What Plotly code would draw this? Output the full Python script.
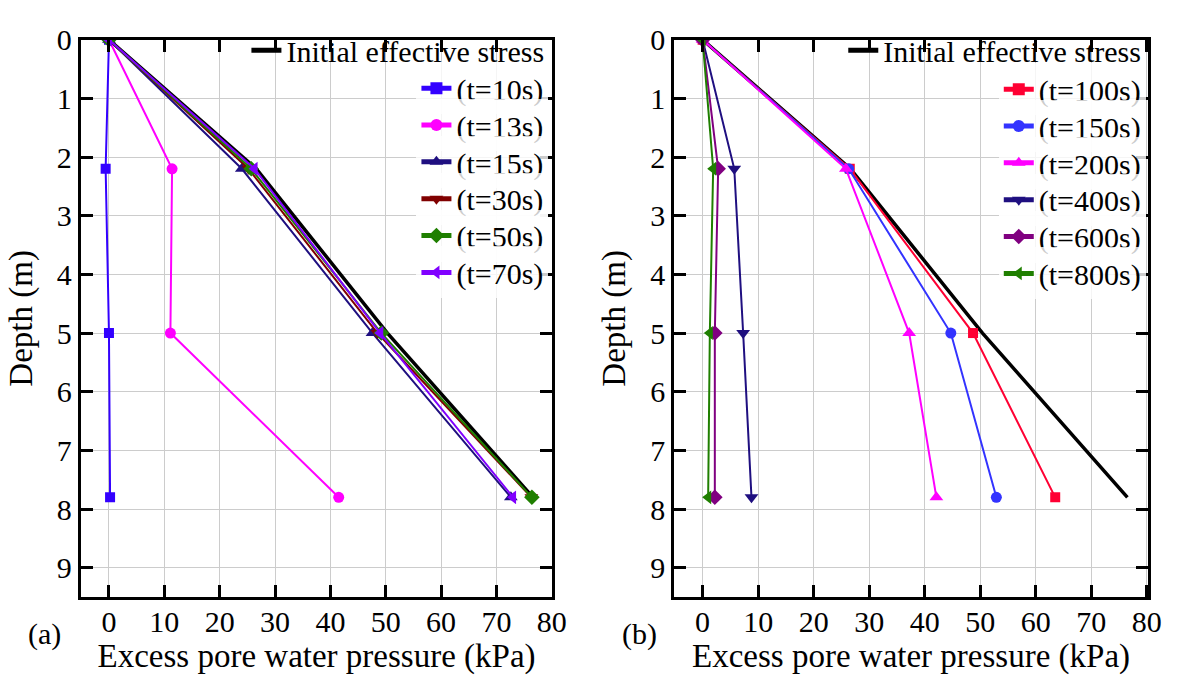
import plotly.graph_objects as go

# Measurement depths (m)
depth = [0, 2.2, 5.0, 7.8]

# Panel (a): excess pore water pressure (kPa), early stage
initial_a = [0, 26.6, 50.3, 76.6]
t10 = [0, -0.6, 0.0, 0.2]
t13 = [0, 11.4, 11.1, 41.5]
t15 = [0, 24.0, 47.6, 72.6]
t30 = [0, 25.2, 48.5, 76.3]
t50 = [0, 25.7, 49.2, 76.4]
t70 = [0, 26.3, 49.0, 73.0]

# Panel (b): excess pore water pressure (kPa), dissipation stage
initial_b = [0, 26.6, 50.4, 76.5]
t100 = [0, 26.5, 48.7, 63.5]
t150 = [0, 26.3, 44.7, 52.9]
t200 = [0, 25.8, 37.2, 42.1]
t400 = [0, 5.7, 7.3, 8.8]
t600 = [0, 2.8, 2.2, 2.2]
t800 = [0, 1.9, 1.3, 1.0]

x_ticks = list(range(0, 81, 10))
y_ticks = list(range(0, 10))

FONT = "Liberation Serif, Times New Roman, serif"
W, H = 1183, 677

series_a = [
    ("(t=10s)", t10, "#3300FF", "square", 10),
    ("(t=13s)", t13, "#FF00FF", "circle", 11),
    ("(t=15s)", t15, "#1F0F80", "triangle-up", 12),
    ("(t=30s)", t30, "#800000", "triangle-down", 12),
    ("(t=50s)", t50, "#1F7F00", "diamond", 12),
    ("(t=70s)", t70, "#8000FF", "triangle-left", 12),
]
series_b = [
    ("(t=100s)", t100, "#FF0033", "square", 10),
    ("(t=150s)", t150, "#3333FF", "circle", 11),
    ("(t=200s)", t200, "#FF00FF", "triangle-up", 12),
    ("(t=400s)", t400, "#1F0F80", "triangle-down", 12),
    ("(t=600s)", t600, "#800080", "diamond", 12),
    ("(t=800s)", t800, "#1F7F00", "triangle-left", 12),
]

fig = go.Figure()
leg_font = dict(family=FONT, size=30, color="black")
legend_layouts = {}
legend_count = [0]


def new_legend(x_right, y_mid, bg="rgba(255,255,255,0.8)"):
    legend_count[0] += 1
    key = "legend" if legend_count[0] == 1 else f"legend{legend_count[0]}"
    legend_layouts[key] = dict(
        x=x_right / W, y=1 - y_mid / H, xanchor="right", yanchor="middle",
        font=leg_font, bgcolor=bg, borderwidth=0, itemsizing="constant")
    return key


def add_panel(xa, ya, initial, series, init_pos, item_right, item_y0, item_dy):
    # The top entry sits against the frame, so it gets no backing box
    fig.add_trace(go.Scatter(
        x=initial, y=depth, mode="lines", name="Initial effective stress",
        line=dict(color="black", width=3.5), xaxis=xa, yaxis=ya,
        legend=new_legend(*init_pos, bg="rgba(255,255,255,0)")))
    for i, (name, vals, color, sym, size) in enumerate(series):
        fig.add_trace(go.Scatter(
            x=vals, y=depth, mode="lines+markers", name=name,
            line=dict(color=color, width=2),
            marker=dict(symbol=sym, size=size, color=color),
            xaxis=xa, yaxis=ya,
            legend=new_legend(item_right, item_y0 + i * item_dy)))


add_panel("x", "y", initial_a, series_a, (556, 34), 555, 73, 37.8)
add_panel("x2", "y2", initial_b, series_b, (1160, 34), 1159.5, 74, 37.8)

axis_common = dict(
    showline=True, linewidth=3, linecolor="black", mirror="ticks",
    ticks="inside", ticklen=12, tickwidth=3, tickcolor="black",
    showgrid=True, gridcolor="#CCCCCC", gridwidth=1, zeroline=False,
    tickfont=dict(family=FONT, size=30, color="black"),
    title_font=dict(family=FONT, size=33, color="black"),
)

y_dom = [1 - 595 / H, 1 - 23.3 / H]

fig.update_layout(
    width=W, height=H, margin=dict(l=0, r=0, t=0, b=0),
    paper_bgcolor="white", plot_bgcolor="white",
    xaxis=dict(domain=[81.7 / W, 559 / W], range=[-5.1, 80.1], anchor="y",
               tickvals=x_ticks, ticklabelstandoff=-4,
               title_text="Excess pore water pressure (kPa)",
               title_standoff=5, **axis_common),
    yaxis=dict(domain=y_dom, range=[9.5, 0], anchor="x", tickvals=y_ticks,
               title_text="Depth (m)", title_standoff=15, **axis_common),
    xaxis2=dict(domain=[682.2 / W, 1161.7 / W], range=[-5.13, 80.2], anchor="y2",
                tickvals=x_ticks, ticklabelstandoff=-4,
                title_text="Excess pore water pressure (kPa)",
                title_standoff=5, **axis_common),
    yaxis2=dict(domain=y_dom, range=[9.5, 0], anchor="x2", tickvals=y_ticks,
                title_text="Depth (m)", title_standoff=15, **axis_common),
    showlegend=True,
    **legend_layouts,
)

for label, xc in (("(a)", 45), ("(b)", 647)):
    fig.add_annotation(text=label, x=xc / W, y=1 - 633 / H, xref="paper",
                       yref="paper", xanchor="center", yanchor="middle",
                       showarrow=False,
                       font=dict(family=FONT, size=30, color="black"))

fig.write_html("out.html")
